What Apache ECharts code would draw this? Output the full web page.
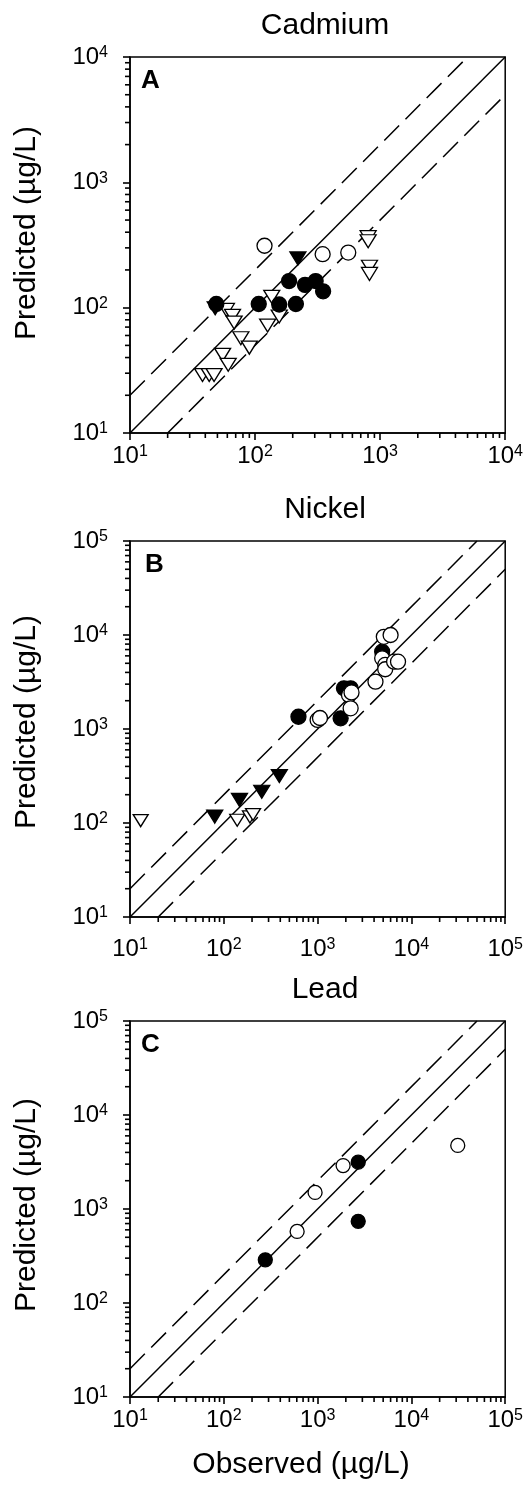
<!DOCTYPE html>
<html>
<head>
<meta charset="utf-8">
<script src="https://cdn.jsdelivr.net/npm/echarts@6/dist/echarts.min.js"></script>
<style>
  html, body { margin: 0; padding: 0; background: #fff; }
  #chart { width: 526px; height: 1490px; }
</style>
</head>
<body>
<div id="chart"></div>
<script>
// ---- data: [observed, predicted] in µg/L ----
// Cadmium (A)
const cdOpenTri = [[38, 29], [43, 29], [47, 29], [55, 42], [61, 35], [59, 96], [66, 86], [68, 76], [77, 57],
  [90, 48], [126, 72], [136, 122], [156, 85], [802, 365], [802, 339], [822, 212], [822, 186]];
const cdFilledTri = [[48, 99], [220, 247]];
const cdFilledCirc = [[49, 107], [107, 107], [156, 106], [212, 107], [187, 163], [251, 152], [305, 163], [350, 135]];
const cdOpenCirc = [[119, 312], [347, 267], [556, 275]];

// Nickel (B)
const niOpenTri = [[13, 106], [139, 107], [190, 116], [205, 123]];
const niFilledTri = [[80, 117], [147, 176], [254, 215], [391, 316]];
const niFilledCirc = [[625, 1350], [1760, 1300], [1910, 2710], [2250, 2710], [4880, 6640]];
const niOpenCirc = [[1000, 1250], [1060, 1310], [2160, 2300], [2300, 2450], [2250, 1660], [4140, 3190],
  [4880, 5650], [5260, 4800], [5260, 4320], [6540, 5200], [7200, 5200], [5080, 9560], [6000, 10000]];

// Lead (C)
const pbFilledCirc = [[277, 288], [2710, 3150], [2710, 740]];
const pbOpenCirc = [[605, 577], [940, 1500], [1870, 2900], [31200, 4750]];

// panel settings
const panelTitles = ['Cadmium', 'Nickel', 'Lead'];
const panelLetters = ['A', 'B', 'C'];
const axisMax = [1e4, 1e5, 1e5];
const decades = [[10, 100, 1000], [10, 100, 1000, 10000], [10, 100, 1000, 10000]];
const minorSteps = [2, 3, 4, 5, 6, 7, 8, 9];

const gridTops = [57, 541, 1021];
const xLabelMargin = [11, 20, 11];
const yTitleY = [233, 722, 1205];
const FONT = '"Liberation Sans", Arial, sans-serif';

const chart = echarts.init(document.getElementById('chart'), null, { renderer: 'canvas' });

function labelFmt(v) {
  const e = Math.round(Math.log10(v));
  return '{b|10}{s|' + e + '}';
}
const labelRich = {
  b: { fontSize: 24, lineHeight: 24, fontFamily: FONT, color: '#000' },
  s: { fontSize: 16, lineHeight: 16, fontFamily: FONT, color: '#000', verticalAlign: 'top' }
};

const grids = [], xAxes = [], yAxes = [], series = [], graphics = [];

function scatter(data, i, symbol, filled, size) {
  return {
    type: 'scatter', xAxisIndex: i, yAxisIndex: i, data: data,
    symbol: symbol, symbolSize: size, symbolRotate: symbol === 'triangle' ? 180 : 0,
    itemStyle: { color: filled ? '#000' : '#fff', borderColor: '#000', borderWidth: 1.3, opacity: 1 },
    silent: true, z: 4
  };
}

function refLine(data, i, dashed) {
  return {
    type: 'line', xAxisIndex: i, yAxisIndex: i, data: data, symbol: 'none', silent: true,
    lineStyle: { color: '#000', width: 1.5, type: dashed ? [21, 9] : 'solid' }, z: 2
  };
}

// small tick marks (2..9 x 10^k) placed by the log axes themselves
function minorTicks(data, i, horizontal) {
  return {
    type: 'scatter', xAxisIndex: i, yAxisIndex: i, data: data, silent: true, clip: false,
    symbol: 'rect', symbolSize: horizontal ? [5, 1.6] : [1.6, 5], symbolOffset: horizontal ? [-2.5, 0] : [0, 2.5],
    itemStyle: { color: '#000', opacity: 1 }, z: 6
  };
}

for (let i = 0; i < 3; i++) {
  const mx = axisMax[i];
  grids.push({ left: 130, top: gridTops[i], width: 377, height: 376, show: true, borderColor: '#000', borderWidth: 1.5, backgroundColor: 'transparent' });
  const common = {
    type: 'log', logBase: 10, min: 10, max: mx, gridIndex: i,
    axisLine: { show: true, onZero: false, lineStyle: { color: '#000', width: 1.5 } },
    axisTick: { show: true, inside: false, length: 7, lineStyle: { color: '#000', width: 1.6 } },
    splitLine: { show: false },
    minorTick: { show: false }
  };
  xAxes.push(Object.assign({}, common, {
    axisLabel: { formatter: labelFmt, rich: labelRich, fontSize: 24, fontFamily: FONT, color: '#000',
      margin: xLabelMargin[i], showMinLabel: true, showMaxLabel: true }
  }));
  yAxes.push(Object.assign({}, common, {
    axisLabel: { formatter: labelFmt, rich: labelRich, fontSize: 24, fontFamily: FONT, color: '#000',
      margin: 22, showMinLabel: true, showMaxLabel: true }
  }));

  const minorVals = [];
  decades[i].forEach(d => minorSteps.forEach(m => minorVals.push(d * m)));
  series.push(minorTicks(minorVals.map(v => [v, 10]), i, false));
  series.push(minorTicks(minorVals.map(v => [10, v]), i, true));

  // 1:1 line and factor-of-two lines
  series.push(refLine([[10, 10], [mx, mx]], i, false));
  series.push(refLine([[10, 20], [mx / 2, mx]], i, true));
  series.push(refLine([[20, 10], [mx, mx / 2]], i, true));

  graphics.push({
    type: 'text', x: 325, y: gridTops[i] - 31,
    style: { text: panelTitles[i], font: '30px ' + FONT, fill: '#000', textAlign: 'center', textVerticalAlign: 'middle' }
  });
  graphics.push({
    type: 'text', x: i === 1 ? 145 : 141, y: gridTops[i] + 24,
    style: { text: panelLetters[i], font: 'bold 26px ' + FONT, fill: '#000', textAlign: 'left', textVerticalAlign: 'middle' }
  });
  graphics.push({
    type: 'text', x: 27, y: yTitleY[i], rotation: Math.PI / 2,
    style: { text: 'Predicted (µg/L)', font: '30px ' + FONT, fill: '#000', textAlign: 'center', textVerticalAlign: 'middle' }
  });
}

// markers
series.push(scatter(cdOpenTri, 0, 'triangle', false, [16, 13]));
series.push(scatter(cdFilledTri, 0, 'triangle', true, [16, 13]));
series.push(scatter(cdFilledCirc, 0, 'circle', true, 15));
series.push(scatter(cdOpenCirc, 0, 'circle', false, 15));

series.push(scatter(niOpenTri, 1, 'triangle', false, [15, 12]));
series.push(scatter(niFilledTri, 1, 'triangle', true, [16, 13]));
series.push(scatter(niFilledCirc, 1, 'circle', true, 15));
series.push(scatter(niOpenCirc, 1, 'circle', false, 15));

series.push(scatter(pbFilledCirc, 2, 'circle', true, 14));
series.push(scatter(pbOpenCirc, 2, 'circle', false, 14));

graphics.push({
  type: 'text', x: 301, y: 1465,
  style: { text: 'Observed (µg/L)', font: '30px ' + FONT, fill: '#000', textAlign: 'center', textVerticalAlign: 'middle' }
});

chart.setOption({
  animation: false,
  backgroundColor: '#fff',
  grid: grids,
  xAxis: xAxes,
  yAxis: yAxes,
  series: series,
  graphic: graphics
});
</script>
</body>
</html>
